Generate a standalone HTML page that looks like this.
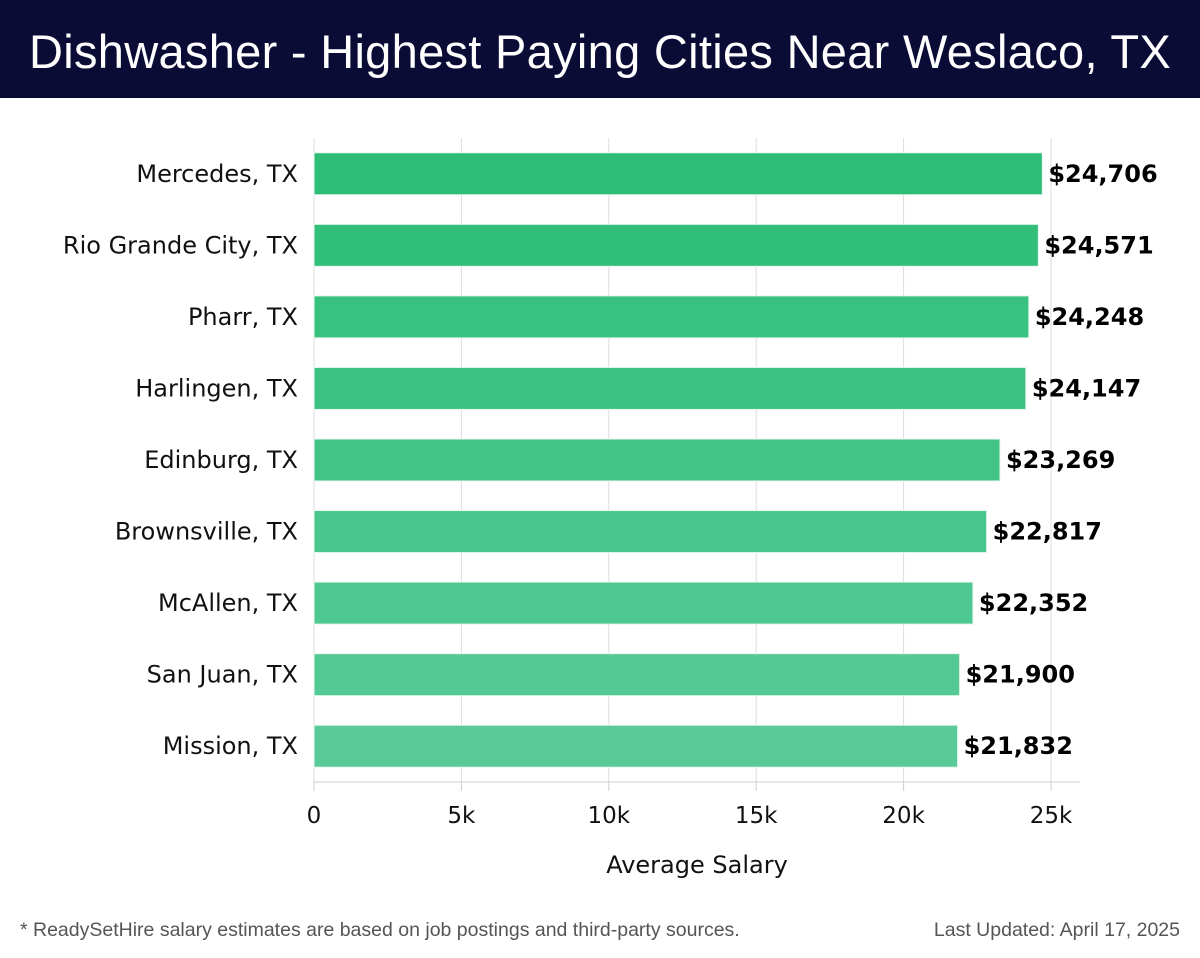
<!DOCTYPE html>
<html><head><meta charset="utf-8">
<style>
body{margin:0;width:1200px;height:958px;background:#fff;overflow:hidden;font-family:"DejaVu Sans","Liberation Sans",sans-serif;}
#hdr{position:absolute;left:0;top:0;width:1200px;height:98px;background:#0b0c35;color:#fff;font-family:"Liberation Sans",sans-serif;font-size:47px;text-align:center;line-height:104px;letter-spacing:0.3px}
.foot{position:absolute;top:919px;font-family:"Liberation Sans",sans-serif;font-size:19.5px;color:#555}
</style></head><body>
<div id="hdr">Dishwasher - Highest Paying Cities Near Weslaco, TX</div>
<svg id="chart" width="1200" height="900" style="position:absolute;left:0;top:0"></svg>
<div class="foot" style="left:20px">* ReadySetHire salary estimates are based on job postings and third-party sources.</div>
<div class="foot" style="right:20px">Last Updated: April 17, 2025</div>
<script>
const cities=["Mercedes, TX","Rio Grande City, TX","Pharr, TX","Harlingen, TX","Edinburg, TX","Brownsville, TX","McAllen, TX","San Juan, TX","Mission, TX"];
const salaries=[24706,24571,24248,24147,23269,22817,22352,21900,21832];
const valueLabels=["$24,706","$24,571","$24,248","$24,147","$23,269","$22,817","$22,352","$21,900","$21,832"];
const tickValues=[0,5000,10000,15000,20000,25000];
const tickLabels=["0","5k","10k","15k","20k","25k"];
const svg=document.getElementById('chart');
const NS="http://www.w3.org/2000/svg";
const x0=314,pxPer=(1051-314)/25000,plotTop=138,plotBottom=782,plotRight=1080;
const band=(plotBottom-plotTop)/cities.length;
const x=v=>x0+v*pxPer;
const y=i=>plotTop+i*band+band/2;
function mk(t,a){const e=document.createElementNS(NS,t);for(const k in a)e.setAttribute(k,a[k]);svg.appendChild(e);return e;}
tickValues.forEach((v,i)=>{
  const g=mk('line',{x1:x(v),x2:x(v),y1:plotTop,y2:plotBottom,stroke:'#dddddd','stroke-width':1});
  
  
  const t=mk('line',{x1:x(v),x2:x(v),y1:plotBottom,y2:plotBottom+9,stroke:'#cccccc','stroke-width':1});
  
  
  const l=mk('text',{x:x(v),y:823,'text-anchor':'middle','font-size':23,fill:'#111'});
  l.textContent=tickLabels[i];
  
  
});
const ax=mk('line',{x1:x0,x2:plotRight,y1:plotBottom,y2:plotBottom,stroke:'#cccccc','stroke-width':1});


const n=cities.length;
cities.forEach((c,i)=>{
  const f=i/(n-1);
  const col=`rgb(${Math.round(45+f*(88-45))},${Math.round(189+f*(203-189))},${Math.round(118+f*(152-118))})`;
  const b=mk('rect',{x:x0,y:y(i)-21,width:x(salaries[i])-x0,height:42,fill:col,stroke:'#e8f7ef','stroke-width':1});
  
  
  const l=mk('text',{x:298,y:y(i)+8,'text-anchor':'end','font-size':24,fill:'#111'});
  l.textContent=c;
  
  
  const v=mk('text',{x:x(salaries[i])+6,y:y(i)+8,'font-size':24,'font-weight':'bold',fill:'#000'});
  v.textContent=valueLabels[i];
  
  
});
const at=mk('text',{x:697,y:873,'text-anchor':'middle','font-size':24,fill:'#111'});
at.textContent="Average Salary";


</script>
</body></html>
